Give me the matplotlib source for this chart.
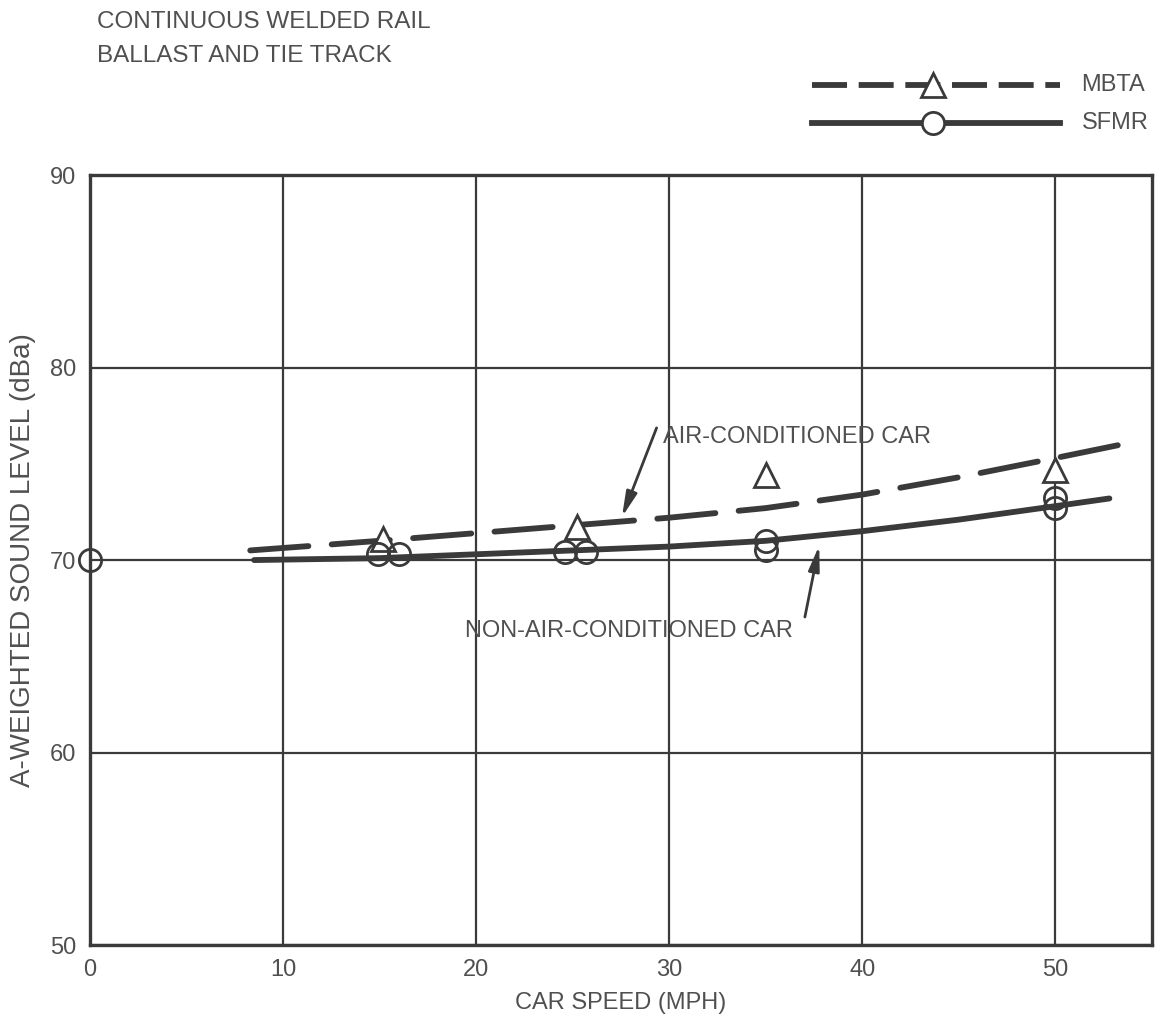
#!/usr/bin/env python3
"""Wayside noise vs car speed, continuous welded rail on ballast and tie track."""

import matplotlib

matplotlib.use("Agg")

import matplotlib.pyplot as plt
from matplotlib.lines import Line2D

# measured points
MBTA_SPEED = [15.2, 25.2, 35.0, 50.0]
MBTA_DBA = [71.1, 71.7, 74.4, 74.7]

SFMR_SPEED = [0.0, 14.9, 16.0, 24.6, 25.7, 35.0, 35.0, 50.0, 50.0]
SFMR_DBA = [70.0, 70.3, 70.3, 70.4, 70.4, 71.0, 70.5, 73.2, 72.7]

# fitted curves
AC_CURVE_SPEED = [8.3, 15, 20, 25, 30, 35, 40, 45, 50, 53.9]
AC_CURVE_DBA = [70.5, 71.0, 71.4, 71.8, 72.2, 72.7, 73.4, 74.3, 75.3, 76.1]

NONAC_CURVE_SPEED = [8.5, 15, 20, 25, 30, 35, 40, 45, 50, 52.8]
NONAC_CURVE_DBA = [70.0, 70.1, 70.3, 70.5, 70.7, 71.0, 71.5, 72.1, 72.8, 73.2]

X_TICKS = [0, 10, 20, 30, 40, 50]
Y_TICKS = [50, 60, 70, 80, 90]

INK = "#3a3a3a"
TEXT = "#505050"
FONT = "Liberation Sans"
FS = 17

plt.rcParams["font.family"] = FONT

fig = plt.figure(figsize=(11.58, 10.28), dpi=100)
ax = fig.add_axes([0.0777, 0.0807, 0.917, 0.749])

ax.set_xlim(0, 55)
ax.set_ylim(50, 90)
ax.set_xticks(X_TICKS)
ax.set_yticks(Y_TICKS)
ax.tick_params(length=0, labelsize=FS, labelcolor=TEXT, pad=10)
ax.grid(color=INK, linewidth=1.6)
ax.set_axisbelow(True)
for spine in ax.spines.values():
    spine.set_color(INK)
    spine.set_linewidth(2.4)

ax.plot(AC_CURVE_SPEED, AC_CURVE_DBA, color=INK, linewidth=4.2,
        dashes=(10, 4), solid_capstyle="round", dash_capstyle="round", zorder=3)
ax.plot(NONAC_CURVE_SPEED, NONAC_CURVE_DBA, color=INK, linewidth=4.2,
        solid_capstyle="round", zorder=3)

ax.plot(MBTA_SPEED, MBTA_DBA, linestyle="none", marker="^", markersize=17,
        markerfacecolor="white", markeredgecolor=INK, markeredgewidth=2.0, zorder=4)
ax.plot(SFMR_SPEED, SFMR_DBA, linestyle="none", marker="o", markersize=16,
        markerfacecolor="none", markeredgecolor=INK, markeredgewidth=2.0, zorder=4,
        clip_on=False)

arrow_style = dict(arrowstyle="-|>,head_width=0.22,head_length=1.0", color=INK,
                   lw=2, mutation_scale=15)
ax.text(36.6, 76.4, "AIR-CONDITIONED CAR", ha="center", va="center",
        fontsize=FS, color=TEXT, zorder=5)
ax.annotate("", xy=(27.5, 72.1), xytext=(29.4, 77.0), arrowprops=arrow_style)
ax.text(27.9, 66.3, "NON-AIR-CONDITIONED CAR", ha="center", va="center",
        fontsize=FS, color=TEXT, zorder=5)
ax.annotate("", xy=(37.8, 70.9), xytext=(37.0, 66.9), arrowprops=arrow_style)

ax.set_xlabel("CAR SPEED (MPH)", fontsize=FS, color=TEXT, labelpad=8)
ax.set_ylabel("A-WEIGHTED SOUND LEVEL (dBa)", fontsize=20, color=TEXT, labelpad=10)

fig.text(0.084, 0.979, "CONTINUOUS WELDED RAIL", fontsize=17.5, color=TEXT, va="center")
fig.text(0.084, 0.946, "BALLAST AND TIE TRACK", fontsize=17.5, color=TEXT, va="center")

# legend drawn by hand to match the original layout
fig.add_artist(Line2D([0.701, 0.915], [0.917, 0.917], transform=fig.transFigure,
                      color=INK, linewidth=4.2, dashes=(6, 2)))
fig.add_artist(Line2D([0.806], [0.917], transform=fig.transFigure, marker="^",
                      markersize=17, markerfacecolor="white", markeredgecolor=INK,
                      markeredgewidth=2.0, linestyle="none"))
fig.add_artist(Line2D([0.701, 0.915], [0.880, 0.880], transform=fig.transFigure,
                      color=INK, linewidth=4.2))
fig.add_artist(Line2D([0.806], [0.880], transform=fig.transFigure, marker="o",
                      markersize=16, markerfacecolor="white", markeredgecolor=INK,
                      markeredgewidth=2.0, linestyle="none"))
fig.text(0.934, 0.917, "MBTA", fontsize=FS, color=TEXT, va="center")
fig.text(0.934, 0.880, "SFMR", fontsize=FS, color=TEXT, va="center")

fig.savefig("out.png", dpi=100)
plt.close(fig)
